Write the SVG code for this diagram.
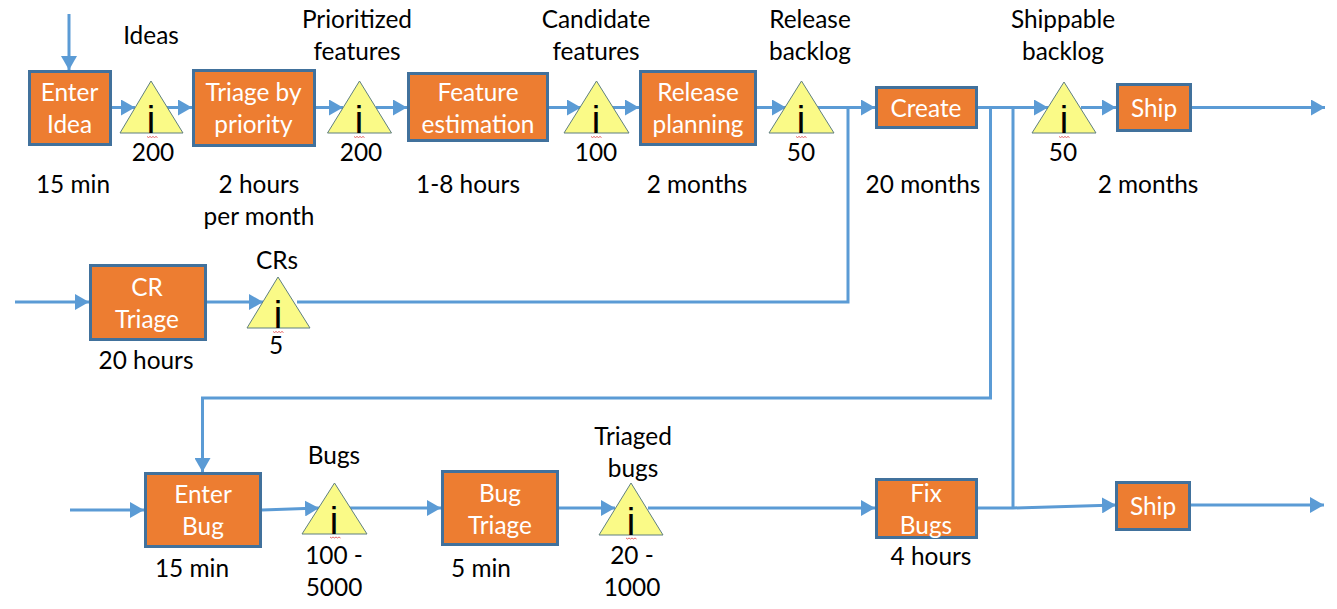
<svg xmlns="http://www.w3.org/2000/svg" width="1337" height="609" viewBox="0 0 1337 609">
<style>
text{font-family:Lato,"Liberation Sans",sans-serif;font-size:24.4px;fill:#000;text-anchor:middle}
.n rect{fill:#ed7d31;stroke:#41719c;stroke-width:3}
.n text{fill:#fff}
.t polygon{fill:#fafa87;stroke:#5f7f80;stroke-width:1}
.t path{fill:none;stroke:#e04040;stroke-width:.8}
.t .i{font-family:"Liberation Sans",sans-serif;font-size:38px}
#connectors path{fill:none;stroke:#5b9bd5;stroke-width:3}
</style>
<defs><marker id="a" markerUnits="userSpaceOnUse" markerWidth="15" markerHeight="16" refX="14" refY="8" orient="auto"><path d="M0 0L14 8L0 16Z" fill="#5b9bd5"/></marker></defs>
<rect width="1337" height="609" fill="#fff"/>
<g id="connectors">
<path d="M69 14V70" marker-end="url(#a)"/>
<path d="M112 107.500H135" marker-end="url(#a)"/>
<path d="M167 107.500H192" marker-end="url(#a)"/>
<path d="M315 107.500H343" marker-end="url(#a)"/>
<path d="M376 107.500H407" marker-end="url(#a)"/>
<path d="M549 107.500H581" marker-end="url(#a)"/>
<path d="M612 107.500H639" marker-end="url(#a)"/>
<path d="M757 107.500H786" marker-end="url(#a)"/>
<path d="M818 107.500H875" marker-end="url(#a)"/>
<path d="M978 107.500H1048" marker-end="url(#a)"/>
<path d="M1081 107.500H1116" marker-end="url(#a)"/>
<path d="M1192 107.500H1325" marker-end="url(#a)"/>
<path d="M15 302H89" marker-end="url(#a)"/>
<path d="M207 302H263" marker-end="url(#a)"/>
<path d="M297 302H848V107.500"/>
<path d="M990.500 107.500V398H202.500V472" marker-end="url(#a)"/>
<path d="M1013 107.500V508"/>
<path d="M70 510H144" marker-end="url(#a)"/>
<path d="M262 510L319 508" marker-end="url(#a)"/>
<path d="M350 508H441" marker-end="url(#a)"/>
<path d="M559 508H615" marker-end="url(#a)"/>
<path d="M648 508H875" marker-end="url(#a)"/>
<path d="M978 508H1013L1116 505" marker-end="url(#a)"/>
<path d="M1191 505H1324" marker-end="url(#a)"/>
</g>
<g id="enter-idea" class="n"><rect x="29.500" y="71.500" width="81" height="73"/><text x="69.500" y="101">Enter</text><text x="69.500" y="133">Idea</text></g>
<g id="triage-priority" class="n"><rect x="193.500" y="70.500" width="121" height="75"/><text x="253.500" y="101">Triage by</text><text x="253.500" y="133">priority</text></g>
<g id="feature-estimation" class="n"><rect x="408.500" y="73.500" width="139" height="67"/><text x="478" y="101">Feature</text><text x="478" y="133">estimation</text></g>
<g id="release-planning" class="n"><rect x="640.500" y="71.500" width="115" height="73"/><text x="698" y="101">Release</text><text x="698" y="133">planning</text></g>
<g id="create" class="n"><rect x="876.500" y="87.500" width="100" height="40"/><text x="926" y="117">Create</text></g>
<g id="ship-1" class="n"><rect x="1117.500" y="84.500" width="73" height="46"/><text x="1154" y="117">Ship</text></g>
<g id="cr-triage" class="n"><rect x="90.500" y="265.500" width="115" height="74"/><text x="147" y="296">CR</text><text x="147" y="328">Triage</text></g>
<g id="enter-bug" class="n"><rect x="145.500" y="473.500" width="115" height="73"/><text x="203" y="503">Enter</text><text x="203" y="535">Bug</text></g>
<g id="bug-triage" class="n"><rect x="442.500" y="471.500" width="115" height="73"/><text x="500" y="502">Bug</text><text x="500" y="534">Triage</text></g>
<g id="fix-bugs" class="n"><rect x="876.500" y="479.500" width="100" height="58"/><text x="926" y="502">Fix</text><text x="926" y="534">Bugs</text></g>
<g id="ship-2" class="n"><rect x="1116.500" y="482.500" width="73" height="47"/><text x="1153" y="515">Ship</text></g>
<g id="inv-ideas" class="t"><polygon points="151,81 183,133 120,133"/><text class="i" x="151" y="133">i</text><path d="M147 136.500l1.500 1 1.500-1 1.500 1 1.500-1 1.500 1 1.500-1 1.500 1"/></g>
<g id="inv-prioritized" class="t"><polygon points="359.500,81 391.500,133 327.500,133"/><text class="i" x="359" y="133">i</text><path d="M354 136.500l1.500 1 1.500-1 1.500 1 1.500-1 1.500 1 1.500-1 1.500 1"/></g>
<g id="inv-candidate" class="t"><polygon points="596.500,81 629,133 564,133"/><text class="i" x="596" y="133">i</text><path d="M591 136.500l1.500 1 1.500-1 1.500 1 1.500-1 1.500 1 1.500-1 1.500 1"/></g>
<g id="inv-release" class="t"><polygon points="801.500,81 834,133 769,133"/><text class="i" x="801" y="133">i</text><path d="M796 136.500l1.500 1 1.500-1 1.500 1 1.500-1 1.500 1 1.500-1 1.500 1"/></g>
<g id="inv-shippable" class="t"><polygon points="1064,82 1096,133 1032,133"/><text class="i" x="1064" y="133">i</text><path d="M1059 136.500l1.500 1 1.500-1 1.500 1 1.500-1 1.500 1 1.500-1 1.500 1"/></g>
<g id="inv-crs" class="t"><polygon points="278,277 310,328 247,328"/><text class="i" x="278" y="328">i</text><path d="M273 331.500l1.500 1 1.500-1 1.500 1 1.500-1 1.500 1 1.500-1 1.500 1"/></g>
<g id="inv-bugs" class="t"><polygon points="334.500,483 367,534 302,534"/><text class="i" x="334" y="534">i</text><path d="M330 537l1.500 1 1.500-1 1.500 1 1.500-1 1.500 1 1.500-1 1.500 1"/></g>
<g id="inv-triaged" class="t"><polygon points="631,483 663,535 599,535"/><text class="i" x="631" y="535">i</text><path d="M626 538l1.500 1 1.500-1 1.500 1 1.500-1 1.500 1 1.500-1 1.500 1"/></g>
<g id="labels">
<text x="151" y="44">Ideas</text>
<text x="357" y="28">Prioritized</text><text x="357" y="60">features</text>
<text x="596" y="28">Candidate</text><text x="596" y="60">features</text>
<text x="810" y="28">Release</text><text x="810" y="60">backlog</text>
<text x="1063" y="28">Shippable</text><text x="1063" y="60">backlog</text>
<text x="153" y="161">200</text><text x="361" y="161">200</text><text x="596" y="161">100</text><text x="801" y="161">50</text><text x="1063" y="161">50</text>
<text x="73" y="193">15 min</text>
<text x="259" y="193">2 hours</text><text x="259" y="225">per month</text>
<text x="468" y="193">1-8 hours</text>
<text x="697" y="193">2 months</text>
<text x="923" y="193">20 months</text>
<text x="1148" y="193">2 months</text>
<text x="277" y="269">CRs</text><text x="276" y="354">5</text>
<text x="146" y="369">20 hours</text>
<text x="334" y="464">Bugs</text>
<text x="633" y="445">Triaged</text><text x="633" y="477">bugs</text>
<text x="192" y="577">15 min</text>
<text x="334" y="564">100 -</text><text x="334" y="596">5000</text>
<text x="481" y="577">5 min</text>
<text x="632" y="564">20 -</text><text x="632" y="596">1000</text>
<text x="931" y="565">4 hours</text>
</g>
</svg>
